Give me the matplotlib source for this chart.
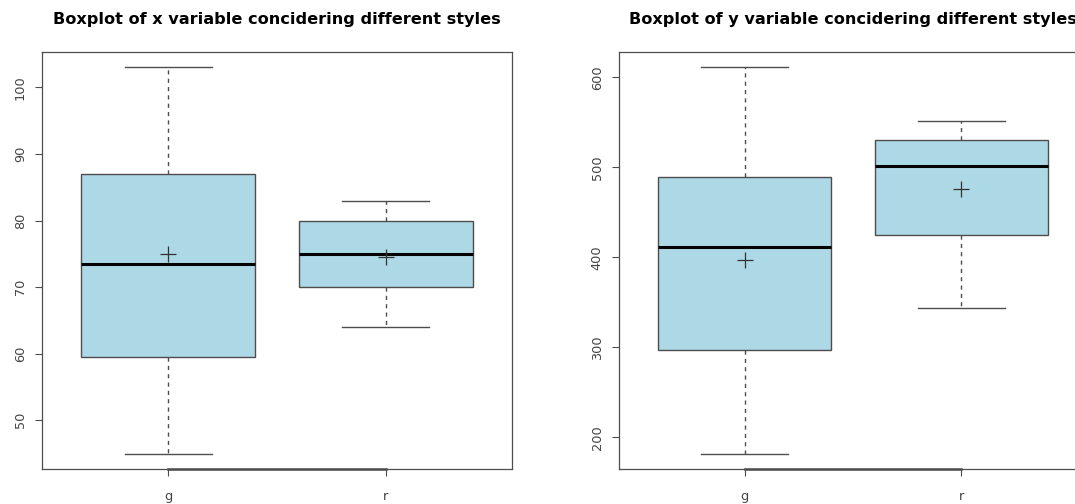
# Boxplots of x and y by style (g / r), R base-graphics look

import matplotlib.pyplot as plt
import numpy as np

styles = ['g', 'r']

# five-number summaries, plus means
x_low = [45, 64]
x_q1 = [59.5, 70]
x_med = [73.5, 75]
x_q3 = [87, 80]
x_high = [103, 83]
x_mean = [75, 74.5]

y_low = [182, 344]
y_q1 = [297, 425]
y_med = [412, 502]
y_q3 = [489, 530]
y_high = [611, 551]
y_mean = [397, 476]

x_ticks = [50, 60, 70, 80, 90, 100]
y_ticks = [200, 300, 400, 500, 600]

box_fill = '#add8e6'
edge = '#4d4d4d'
label_col = '#444444'


def make_stats(lo, q1, med, q3, hi, mean):
    out = []
    for i in range(len(styles)):
        out.append({'whislo': lo[i], 'q1': q1[i], 'med': med[i], 'q3': q3[i],
                    'whishi': hi[i], 'mean': mean[i], 'fliers': [],
                    'label': styles[i]})
    return out


def plot_boxes(ax, stats, ticks, title):
    pos = np.arange(1, len(stats) + 1)
    ax.bxp(stats, positions=pos, widths=0.8, capwidths=0.4, showmeans=True,
           patch_artist=True,
           boxprops=dict(facecolor=box_fill, edgecolor=edge, linewidth=1),
           whiskerprops=dict(color=edge, linewidth=1, linestyle=(0, (3, 3))),
           capprops=dict(color=edge, linewidth=1),
           medianprops=dict(color='black', linewidth=2.2),
           meanprops=dict(marker='+', markersize=12, markeredgecolor='#333333',
                          markeredgewidth=0.9))
    lo = min(s['whislo'] for s in stats)
    hi = max(s['whishi'] for s in stats)
    pad = (hi - lo) * 0.04
    ax.set_ylim(lo - pad, hi + pad)
    ax.set_xlim(0.42, len(stats) + 0.58)
    ax.set_yticks(ticks)
    ax.set_yticklabels([str(t) for t in ticks], rotation=90, va='center')
    ax.set_xticks(pos)
    ax.set_xticklabels(styles)
    ax.tick_params(axis='y', length=5, width=0.8, color=edge, pad=6,
                   labelsize=9.3, labelcolor=label_col)
    ax.tick_params(axis='x', length=5, width=0.8, color=edge, pad=10,
                   labelsize=9.3, labelcolor=label_col)
    for sp in ax.spines.values():
        sp.set_color(edge)
        sp.set_linewidth(0.9)
    # R draws the axis line between first and last tick on top of the frame
    ax.plot([pos[0], pos[-1]], [lo - pad, lo - pad], color=edge, lw=1.8,
            clip_on=False, zorder=5)
    ax.set_title(title, fontsize=11.6, fontweight='bold', pad=20)


fig = plt.figure(figsize=(10.75, 5.04), dpi=100)
ax1 = fig.add_axes([0.0391, 0.0694, 0.4372, 0.8274])
ax2 = fig.add_axes([0.5758, 0.0694, 0.4353, 0.8274])

plot_boxes(ax1, make_stats(x_low, x_q1, x_med, x_q3, x_high, x_mean), x_ticks,
           'Boxplot of x variable concidering different styles')
plot_boxes(ax2, make_stats(y_low, y_q1, y_med, y_q3, y_high, y_mean), y_ticks,
           'Boxplot of y variable concidering different styles')

fig.savefig('out.png', dpi=100)
